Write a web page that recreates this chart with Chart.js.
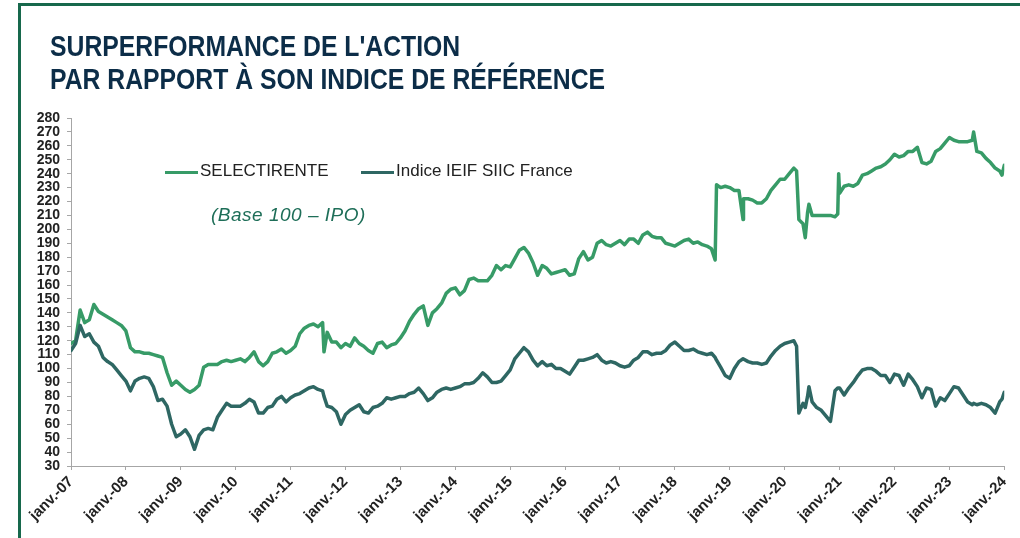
<!DOCTYPE html>
<html lang="fr">
<head>
<meta charset="utf-8">
<title>Surperformance de l'action</title>
<script src="https://cdn.jsdelivr.net/npm/chart.js@4.4.1/dist/chart.umd.min.js"></script>
<style>
  html, body { margin: 0; padding: 0; background: #fff; }
  #wrap { position: relative; width: 1020px; height: 538px; overflow: hidden; }
  #chart { position: absolute; left: 0; top: 0; }
  .frame-top { position: absolute; left: 18px; top: 3px; width: 1010px; height: 3px; background: #17684c; }
  .frame-left { position: absolute; left: 18px; top: 3px; width: 3px; height: 540px; background: #17684c; }
  h1 { position: absolute; left: 50px; top: 29px; margin: 0;
       font: bold 30px/33px 'Liberation Sans', Arial, sans-serif;
       color: #0c2d48; white-space: nowrap;
       transform: scaleX(0.825); transform-origin: 0 0; }
  .leg { position: absolute; top: 161px; font: 17px/20px 'Liberation Sans', Arial, sans-serif; color: #222; white-space: nowrap; }
  .leg i { display: inline-block; width: 33px; height: 3px; vertical-align: middle; margin-right: 2px; position: relative; top: 1px; }
  .base { position: absolute; left: 211px; top: 204px; font: italic 19px/22px 'Liberation Sans', Arial, sans-serif; color: #1e6e58; letter-spacing: 0.5px; }
</style>
</head>
<body>
<div id="wrap">
  <canvas id="chart" width="1020" height="538"></canvas>
  <div class="frame-top"></div>
  <div class="frame-left"></div>
  <h1>SURPERFORMANCE DE L'ACTION<br>PAR RAPPORT À SON INDICE DE RÉFÉRENCE</h1>
  <div class="leg" style="left:165px"><i style="background:#379b67"></i>SELECTIRENTE</div>
  <div class="leg" style="left:361px"><i style="background:#2e6763"></i>Indice IEIF SIIC France</div>
  <div class="base">(Base 100 – IPO)</div>
</div>
<script>
'use strict';

// months since janv. 2007 (a few extra points where the curves jump)
let months = [
  0, 1, 2, 3, 4, 5, 6, 7, 8, 9, 10, 11,
  12, 13, 14, 15, 16, 17, 18, 19, 20, 21, 22, 23,
  24, 25, 26, 27, 28, 29, 30, 31, 32, 33, 34, 35,
  36, 37, 38, 39, 40, 41, 42, 43, 44, 45, 46, 47,
  48, 49, 50, 51, 52, 53, 54, 55, 55.3, 56, 57, 58, 59,
  60, 61, 62, 63, 64, 65, 66, 67, 68, 69, 70, 71,
  72, 73, 74, 75, 76, 77, 78, 79, 80, 81, 82, 83,
  84, 85, 86, 87, 88, 89, 90, 91, 92, 93, 94, 95,
  96, 97, 98, 99, 100, 101, 102, 103, 104, 105, 106, 107,
  108, 109, 110, 111, 112, 113, 114, 115, 116, 117, 118, 119,
  120, 121, 122, 123, 124, 125, 126, 127, 128, 129, 130, 131,
  132, 133, 134, 135, 136, 137, 138, 139, 140, 140.8, 141.1, 142, 143,
  144, 145, 146, 146.9, 147, 148, 149, 150, 151, 152, 153, 154, 155,
  156, 157, 158, 158.6, 159.1, 160, 160.5, 161, 161.3, 162, 163, 164, 165, 166, 167, 167.6, 167.8,
  168, 169, 170, 171, 172, 173, 174, 175, 176, 177, 178, 179,
  180, 181, 182, 183, 184, 185, 186, 187, 188, 189, 190, 191,
  192, 193, 194, 195, 196, 197, 197.3, 198, 199, 200, 201, 202, 203, 203.5,
  204
];

let selectirente = [
  118, 120, 142, 133, 135, 146, 141, 139, 137, 135, 133, 131,
  127, 115, 112, 112, 111, 111, 110, 109, 108, 97, 88, 91,
  88, 85, 83, 85, 88, 101, 103, 103, 103, 105, 106, 105,
  106, 107, 105, 108, 112, 105, 102, 105, 111, 112, 114, 111,
  113, 116, 125, 129, 131, 132, 130, 133, 112, 126, 119, 119, 115,
  118, 116, 122, 118, 116, 113, 111, 118, 119, 115, 117, 118,
  122, 127, 134, 139, 143, 145, 131, 140, 143, 147, 154, 157,
  158, 153, 156, 164, 165, 163, 163, 163, 167, 174, 171, 174,
  173, 179, 185, 187, 183, 176, 167, 174, 172, 168, 169, 170,
  171, 167, 168, 179, 184, 178, 180, 190, 192, 189, 188, 190,
  192, 189, 193, 193, 190, 196, 198, 195, 194, 194, 190, 189,
  188, 190, 192, 193, 190, 191, 189, 188, 186, 178, 232, 230, 231,
  230, 228, 228, 207, 222, 222, 221, 219, 219, 222, 228, 232, 236,
  236, 240, 244, 242, 207, 204, 194, 212, 218, 210, 210, 210, 210, 210, 209, 211, 240,
  226, 231, 232, 231, 233, 239, 240, 242, 244, 245, 247, 250,
  254, 252, 253, 256, 256, 259, 248, 247, 249, 256, 258, 262,
  266, 264, 263, 263, 263, 264, 270, 256, 255, 251, 248, 244, 242, 239,
  246
];

let indiceIeif = [
  113, 118, 131, 123, 125, 119, 116, 108, 105, 103, 99, 95,
  91, 84, 91, 93, 94, 93, 87, 77, 78, 73, 60, 51,
  53, 56, 51, 42, 52, 56, 57, 56, 65, 70, 75, 73,
  73, 73, 75, 78, 76, 68, 68, 72, 73, 78, 80, 76,
  79, 81, 82, 84, 86, 87, 85, 84, 80, 73, 72, 69, 60,
  67, 70, 72, 74, 69, 68, 72, 73, 75, 79, 78, 79,
  80, 80, 82, 83, 86, 82, 77, 79, 83, 85, 86, 85,
  86, 87, 89, 89, 90, 93, 97, 94, 90, 90, 91, 95,
  99, 107, 111, 115, 112, 106, 102, 105, 102, 103, 100, 100,
  98, 96, 101, 106, 106, 107, 108, 110, 106, 104, 105, 104,
  102, 101, 102, 106, 108, 112, 112, 110, 111, 111, 113, 117,
  119, 116, 113, 113, 114, 112, 111, 110, 111, 108, 106, 101, 95,
  93, 100, 105, 107, 107, 105, 104, 104, 103, 104, 109, 113, 116,
  118, 119, 120, 116, 68, 75, 72, 80, 87, 76, 72, 70, 66, 62, 84, 86, 86,
  86, 81, 86, 90, 95, 99, 100, 100, 98, 95, 95, 90,
  96, 95, 88, 96, 92, 87, 79, 86, 85, 73, 79, 77,
  82, 87, 86, 81, 76, 74, 75, 74, 75, 74, 72, 68, 76, 78,
  83
];

let yearLabels = ['janv.-07', 'janv.-08', 'janv.-09', 'janv.-10', 'janv.-11', 'janv.-12',
  'janv.-13', 'janv.-14', 'janv.-15', 'janv.-16', 'janv.-17', 'janv.-18',
  'janv.-19', 'janv.-20', 'janv.-21', 'janv.-22', 'janv.-23', 'janv.-24'];

let canvasElem = document.getElementById('chart');

function renderChart() {
    let data = {
        datasets: [
            {
              label: 'Indice IEIF SIIC France',
              data: months.map((m, i) => ({ x: m, y: indiceIeif[i] })),
              borderColor: '#2e6763',
              borderWidth: 3.5,
              order: 0
            },
            {
              label: 'SELECTIRENTE',
              data: months.map((m, i) => ({ x: m, y: selectirente[i] })),
              borderColor: '#379b67',
              borderWidth: 3.5,
              order: 1
            }
        ]
    };
    let tickFont = { family: "'Liberation Sans', Arial, sans-serif", weight: 'bold' };
    let options = {
        responsive: false,
        animation: false,
        layout: { padding: { top: 118, left: 0, right: 14, bottom: 0 } },
        elements: {
            point: { radius: 0 },
            line: { tension: 0, borderJoinStyle: 'round', borderCapStyle: 'round' }
        },
        plugins: { legend: { display: false }, tooltip: { enabled: false } },
        scales: {
            x: {
                type: 'linear',
                min: 0,
                max: 204,
                afterFit: scale => { scale.height = 72; },
                border: { color: '#a6a6a6', width: 1 },
                grid: { drawOnChartArea: false, tickLength: 4, color: '#a6a6a6' },
                ticks: {
                    stepSize: 12,
                    autoSkip: false,
                    minRotation: 45,
                    maxRotation: 45,
                    padding: 3,
                    color: '#222',
                    font: Object.assign({ size: 15 }, tickFont),
                    callback: v => yearLabels[v / 12]
                }
            },
            y: {
                min: 30,
                max: 280,
                afterFit: scale => { scale.width = 71; },
                border: { color: '#a6a6a6', width: 1 },
                grid: { drawOnChartArea: false, tickLength: 4, color: '#a6a6a6' },
                ticks: {
                    stepSize: 10,
                    autoSkip: false,
                    padding: 7,
                    color: '#222',
                    font: Object.assign({ size: 14 }, tickFont)
                }
            }
        }
    };

    let ctx = canvasElem.getContext('2d');
    new Chart(ctx, {
        type: 'line',
        data: data,
        options: options
    });
}

renderChart();
</script>
</body>
</html>
